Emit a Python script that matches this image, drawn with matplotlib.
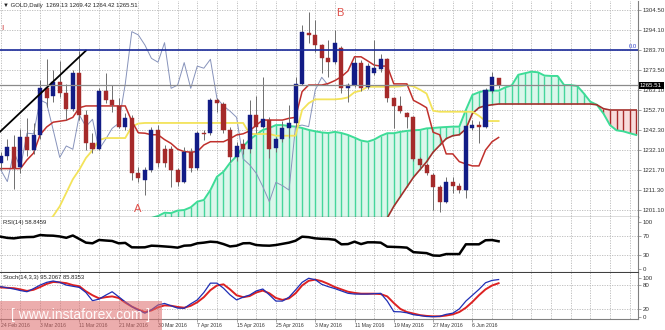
import numpy as np
import matplotlib
matplotlib.use("Agg")
import matplotlib.pyplot as plt
from matplotlib.patches import Rectangle

plt.rcParams['font.family'] = ['Liberation Sans', 'DejaVu Sans']

# daily candles, 24 Feb 2016 .. 10 Jun 2016
opens = [1225.6, 1229.0, 1233.5, 1223.2, 1238.7, 1232.1, 1239.9, 1264.0, 1260.0, 1267.4,
         1261.8, 1253.1, 1272.1, 1250.2, 1235.6, 1232.6, 1262.6, 1258.0, 1254.9, 1243.9,
         1248.5, 1220.4, 1216.6, 1221.8, 1242.5, 1232.5, 1232.5, 1221.8, 1215.8, 1231.3,
         1222.7, 1240.8, 1240.8, 1258.0, 1255.7, 1242.5, 1228.3, 1235.1, 1232.5, 1250.2,
         1244.2, 1247.6, 1233.0, 1237.6, 1243.3, 1245.9, 1266.2, 1292.5, 1291.6, 1286.4,
         1279.5, 1277.5, 1284.7, 1264.0, 1265.7, 1277.3, 1264.5, 1272.1, 1273.8, 1279.0,
         1258.8, 1254.9, 1251.1, 1249.0, 1227.3, 1224.4, 1219.2, 1213.2, 1205.4, 1215.4,
         1213.7, 1211.4, 1243.5, 1245.0, 1244.2, 1262.8, 1269.13]
highs = [1231.0, 1238.0, 1240.0, 1243.0, 1248.5, 1246.0, 1268.3, 1279.0, 1273.5, 1278.3,
         1266.0, 1273.5, 1283.3, 1252.8, 1240.7, 1264.0, 1271.8, 1265.7, 1258.8, 1251.0,
         1250.2, 1223.5, 1223.5, 1244.2, 1245.0, 1234.5, 1234.0, 1223.0, 1233.9, 1233.0,
         1242.0, 1242.5, 1259.0, 1259.0, 1257.0, 1244.0, 1236.0, 1238.0, 1258.0, 1260.0,
         1270.0, 1249.0, 1239.0, 1247.0, 1255.4, 1270.0, 1296.7, 1303.6, 1299.3, 1287.0,
         1289.0, 1294.0, 1286.0, 1266.5, 1280.0, 1278.5, 1277.0, 1289.0, 1281.5, 1279.8,
         1259.5, 1260.0, 1252.0, 1249.5, 1228.5, 1225.5, 1220.0, 1214.0, 1218.3, 1218.0,
         1215.0, 1245.0, 1247.5, 1247.3, 1264.0, 1272.6, 1269.42]
lows = [1222.0, 1227.0, 1212.0, 1220.0, 1229.0, 1230.0, 1238.0, 1254.5, 1257.0, 1259.5,
        1247.6, 1252.5, 1247.6, 1232.1, 1230.4, 1232.0, 1256.3, 1251.9, 1243.3, 1242.5,
        1216.6, 1215.8, 1208.9, 1221.0, 1223.5, 1223.5, 1213.0, 1213.5, 1215.0, 1220.5,
        1222.0, 1237.5, 1240.0, 1252.0, 1241.0, 1226.0, 1226.5, 1230.0, 1230.5, 1240.8,
        1243.5, 1227.8, 1231.0, 1236.5, 1238.2, 1244.2, 1265.5, 1287.3, 1283.0, 1271.8,
        1270.0, 1276.5, 1261.6, 1257.0, 1264.5, 1262.5, 1263.5, 1271.0, 1272.5, 1257.0,
        1243.5, 1251.0, 1243.5, 1226.5, 1223.0, 1219.0, 1201.1, 1200.2, 1204.5, 1209.7,
        1210.0, 1207.5, 1242.5, 1235.6, 1243.5, 1261.5, 1264.42]
closes = [1229.0, 1233.5, 1222.7, 1238.7, 1232.1, 1239.9, 1264.0, 1258.8, 1267.4, 1261.8,
          1253.1, 1272.1, 1250.2, 1235.6, 1232.6, 1262.6, 1258.0, 1255.4, 1244.0, 1248.5,
          1220.4, 1217.5, 1221.8, 1242.5, 1225.2, 1225.2, 1221.8, 1215.8, 1231.3, 1222.7,
          1240.8, 1240.5, 1258.0, 1256.3, 1242.5, 1228.3, 1234.2, 1232.5, 1250.2, 1244.2,
          1248.0, 1232.5, 1237.6, 1243.3, 1245.9, 1266.2, 1293.3, 1291.6, 1286.4, 1279.5,
          1277.5, 1287.6, 1264.0, 1265.7, 1277.3, 1264.0, 1275.5, 1274.4, 1279.0, 1258.8,
          1254.9, 1252.2, 1249.0, 1227.5, 1224.4, 1220.1, 1213.2, 1205.4, 1215.4, 1213.7,
          1211.4, 1244.4, 1245.0, 1244.2, 1263.1, 1269.7, 1265.51]

# ichimoku lines
tenkan = [1222.5, 1222.5, 1222.5, 1222.5, 1227.0, 1230.5, 1240.0, 1244.0, 1246.5, 1247.0,
          1247.5, 1249.0, 1254.0, 1254.9, 1254.9, 1254.9, 1254.9, 1254.9, 1254.9, 1254.9,
          1247.0, 1241.0, 1240.8, 1240.0, 1240.0, 1237.5, 1235.5, 1232.5, 1231.3, 1231.0,
          1231.3, 1234.7, 1236.4, 1236.4, 1236.4, 1238.0, 1239.9, 1240.5, 1242.0, 1245.0,
          1247.6, 1247.6, 1247.6, 1247.6, 1248.5, 1249.0, 1262.3, 1265.7, 1265.7, 1265.7,
          1266.5, 1268.0, 1270.0, 1273.0, 1280.3, 1280.3, 1278.2, 1276.0, 1275.5, 1275.5,
          1266.3, 1266.3, 1266.3, 1257.8, 1256.0, 1254.0, 1241.3, 1240.0, 1230.1, 1230.1,
          1226.1, 1224.9, 1223.9, 1223.9, 1232.1, 1236.4, 1238.6]
kijun = [1170.0, 1172.0, 1175.0, 1178.0, 1182.0, 1186.0, 1190.0, 1194.0, 1198.0, 1203.0,
         1210.0, 1217.0, 1222.0, 1228.0, 1232.0, 1237.3, 1238.3, 1238.3, 1238.3, 1238.3,
         1244.2, 1245.8, 1246.1, 1246.1, 1246.1, 1246.1, 1246.1, 1246.1, 1246.1, 1246.1,
         1246.1, 1246.1, 1246.1, 1246.1, 1246.1, 1246.1, 1246.1, 1246.1, 1240.4, 1240.4,
         1240.4, 1240.4, 1239.5, 1239.5, 1239.5, 1239.5, 1252.8, 1256.3, 1258.3, 1258.3,
         1258.3, 1258.3, 1258.6, 1259.3, 1262.0, 1262.8, 1264.8, 1264.8, 1264.8, 1264.8,
         1264.8, 1265.0, 1265.7, 1265.0, 1263.3, 1261.3, 1252.4, 1251.9, 1251.9, 1251.9,
         1251.9, 1251.9, 1251.9, 1249.8, 1247.1, 1247.1, 1247.1]
span_a = [1180.0, 1181.0, 1182.0, 1183.0, 1184.0, 1185.0, 1186.0, 1187.0, 1188.0, 1189.0,
          1189.0, 1190.0, 1190.0, 1191.0, 1191.0, 1192.0, 1192.0, 1193.0, 1193.0, 1194.0,
          1194.0, 1195.0, 1196.5, 1197.0, 1198.0, 1199.7, 1199.5, 1200.8, 1201.1, 1202.5,
          1205.4, 1206.3, 1211.4, 1218.3, 1220.9, 1225.5, 1229.0, 1234.0, 1237.5, 1240.0,
          1242.5, 1243.5, 1245.0, 1245.0, 1244.5, 1244.2, 1243.5, 1242.5, 1241.8, 1241.2,
          1240.9, 1241.5, 1240.9, 1239.9, 1238.5, 1237.0, 1236.4, 1237.5, 1239.4, 1240.8,
          1240.8, 1241.5, 1242.0, 1242.3, 1242.5, 1243.3, 1243.5, 1243.8, 1244.0, 1244.2,
          1244.2, 1252.8, 1260.6, 1262.0, 1262.8, 1262.8, 1262.8, 1264.5, 1265.5, 1271.0,
          1271.8, 1272.6, 1272.3, 1270.6, 1270.4, 1270.4, 1265.7, 1265.7, 1265.2, 1261.4,
          1257.1, 1255.5, 1251.0, 1245.0, 1242.3, 1241.8, 1240.8, 1239.9]
span_b = [1152.0, 1152.0, 1153.0, 1155.0, 1155.0, 1157.0, 1158.0, 1160.0, 1160.0, 1162.0,
          1162.0, 1164.0, 1165.0, 1165.0, 1167.0, 1168.0, 1170.0, 1170.0, 1171.0, 1172.0,
          1172.0, 1174.0, 1175.0, 1175.0, 1176.0, 1176.0, 1178.0, 1178.0, 1179.0, 1180.0,
          1180.0, 1181.0, 1182.0, 1182.0, 1183.0, 1183.0, 1184.0, 1184.0, 1185.0, 1185.0,
          1186.0, 1186.0, 1187.0, 1187.0, 1188.0, 1188.0, 1189.0, 1189.0, 1190.0, 1190.0,
          1191.0, 1191.0, 1192.0, 1192.0, 1193.0, 1193.0, 1194.0, 1195.0, 1196.0, 1197.0,
          1203.0, 1208.0, 1213.0, 1218.0, 1222.0, 1226.0, 1231.0, 1234.5, 1238.0, 1239.5,
          1240.0, 1243.0, 1251.0, 1254.0, 1255.0, 1255.5, 1255.9, 1255.9, 1255.9, 1255.9,
          1255.9, 1255.9, 1255.9, 1255.9, 1255.9, 1255.9, 1255.9, 1255.9, 1255.9, 1255.9,
          1255.9, 1255.5, 1253.5, 1252.8, 1252.8, 1252.8, 1252.8, 1252.8]

rsi = [68.5, 66.0, 65.0, 67.0, 67.7, 68.0, 72.0, 71.0, 70.6, 69.0,
       66.2, 71.0, 63.6, 56.0, 54.6, 61.6, 60.5, 59.5, 54.6, 55.5,
       46.2, 46.0, 46.2, 49.6, 49.0, 48.0, 47.0, 45.5, 49.6, 50.3,
       54.6, 56.0, 58.0, 57.0, 53.0, 48.0, 49.6, 54.6, 55.0, 51.0,
       50.0, 49.6, 51.0, 53.5, 56.0, 60.0, 68.5, 67.5, 65.0, 64.0,
       63.6, 62.0, 52.5, 53.0, 58.0, 53.0, 56.7, 56.7, 56.0, 47.5,
       47.0, 46.5, 45.5, 36.0, 35.0, 34.0, 29.0, 28.5, 32.0, 32.0,
       32.0, 52.5, 52.5, 52.5, 61.0, 61.5, 58.8459]
stoch_k = [77, 74, 71, 67, 64, 72, 81, 88, 91.5, 88,
           81, 78, 75, 62, 41, 45, 55, 64, 51, 38,
           26, 17, 9, 18, 30, 34, 28, 22, 21.5, 33,
           43, 62, 86, 86, 73, 56, 43, 50, 55.6, 66,
           71, 56, 40, 40, 50, 68.5, 88, 98.5, 95, 83,
           77, 72, 66, 60, 58, 58, 58, 59, 60, 40,
           13, 12.5, 10, 5, 3, 0.5, 0, 1, 6, 9,
           20, 40, 55, 70, 87, 93, 95.2067]
stoch_d = [75, 74, 73, 70, 66, 69, 76, 84, 89, 88,
           86, 81, 78, 65, 55, 47, 50, 52, 48, 36,
           26, 18, 12, 16, 24, 29, 28, 25, 23, 28,
           37, 50, 68, 80, 83, 70, 55, 50, 53, 62,
           67, 60, 48, 43, 47, 60, 80, 92, 95, 91,
           84, 76, 70, 64, 61, 59, 59, 59, 58, 52,
           35, 20, 12, 8, 4, 2, 1, 1, 3, 6,
           12, 23, 38, 55, 70, 80, 85.8353]

price_ticks = [1304.50, 1294.10, 1283.70, 1273.50, 1263.10, 1252.70,
               1242.30, 1232.10, 1221.70, 1211.30, 1201.10]
date_bars = [0, 6, 12, 18, 24, 30, 36, 42, 48, 54, 60, 66, 72]
date_labels = ["24 Feb 2016", "3 Mar 2016", "11 Mar 2016", "21 Mar 2016", "30 Mar 2016",
               "7 Apr 2016", "15 Apr 2016", "25 Apr 2016", "3 May 2016", "11 May 2016",
               "19 May 2016", "27 May 2016", "6 Jun 2016"]
level_blue = 1283.70
last_price = 1265.51
trend_x = [-0.1, 13.0]
trend_y = [1241.6, 1283.5]

BULL = "#121c86"
BEAR = "#a52a2a"
GRID = "#b8b8b8"

W, H = 665.0, 330.0
fig = plt.figure(figsize=(6.65, 3.30), dpi=100, facecolor="white")


def px_axes(top, bottom, right=638):
    return fig.add_axes([0, 1 - bottom / H, right / W, (bottom - top) / H])


def ftext(xp, yp, s, **kw):
    return fig.text(xp / W, 1 - yp / H, s, **kw)


ax = px_axes(1, 217)
ax_rsi = px_axes(217, 273)
ax_st = px_axes(273, 319)

grid_bars = np.arange(0, 98, 3)
for a in (ax, ax_rsi, ax_st):
    a.set_xlim(-0.12, 97.28)
    a.vlines(grid_bars, -1e4, 1e4, colors=GRID, lw=0.6, linestyles=(0, (1.5, 1.5)), zorder=0)
    a.spines['left'].set_visible(False)
    a.spines['top'].set_visible(False)
    a.spines['right'].set_color('#808080')
    a.spines['right'].set_linewidth(0.8)
    a.yaxis.tick_right()
    a.tick_params(axis='y', length=2, width=0.5, colors='#808080',
                  labelcolor='#333333', labelsize=4.4, pad=1.5)
    a.set_xticks([])

# ---- main price panel
ax.set_ylim(1197.48, 1309.15)
ax.set_yticks(price_ticks)
ax.set_yticklabels(["%.2f" % p for p in price_ticks])
ax.hlines(price_ticks, -1, 100, colors=GRID, lw=0.6, linestyles=(0, (1.5, 1.5)), zorder=0)
ax.spines['bottom'].set_color('#505050')
ax.spines['bottom'].set_linewidth(1.0)

xc = np.arange(len(span_a))
sa = np.array(span_a)
sb = np.array(span_b)
green = sa >= sb
ax.fill_between(xc, sa, sb, where=green, interpolate=True, color='#dbf6eb', lw=0, zorder=1)
ax.fill_between(xc, sa, sb, where=~green, interpolate=True, color='#f8dcdc', lw=0, zorder=1)
ax.vlines(xc[green], sb[green], sa[green], colors='#45d69c', lw=1.0, zorder=1.5)
ax.vlines(xc[~green], sa[~green], sb[~green], colors='#a82a2a', lw=1.0, zorder=1.5)
ax.plot(xc, sa, color='#3ddc97', lw=1.4, zorder=2)
ax.plot(xc, sb, color='#a3302c', lw=1.2, zorder=2)

x = np.arange(len(opens))
o = np.array(opens)
c = np.array(closes)
h = np.array(highs)
l = np.array(lows)

# chikou = closes shifted back 26 bars
ax.plot(x[:-26], c[26:], color='#8793bb', lw=0.7, zorder=2.5)
ax.plot(x, kijun, color='#f3e35a', lw=1.3, zorder=3)
ax.plot(x, tenkan, color='#c0302c', lw=1.1, zorder=3)

col = np.where(c >= o, BULL, BEAR)
ax.vlines(x, l, h, colors='#6e6e6e', lw=0.7, zorder=4)
ax.bar(x, np.maximum(np.abs(c - o), 0.4), bottom=np.minimum(o, c), width=0.62,
       color=col, edgecolor=col, lw=0.3, zorder=5)

ax.plot(trend_x, trend_y, color='black', lw=1.3, zorder=6)
ax.axhline(level_blue, color='#1a2a9a', lw=1.2, zorder=6)
ax.axhline(last_price, color='#8a8a8a', lw=0.9, zorder=6)

# ---- RSI panel
ax_rsi.set_ylim(-7.8, 109.9)
ax_rsi.set_yticks([100, 70, 30, 0])
ax_rsi.hlines([70, 30], -1, 100, colors=GRID, lw=0.6, linestyles=(0, (1.5, 1.5)), zorder=0)
ax_rsi.plot(x, rsi, color='black', lw=1.8, zorder=3)
ax_rsi.spines['bottom'].set_color('#404040')
ax_rsi.spines['bottom'].set_linewidth(1.5)

# ---- Stochastic panel
ax_st.set_ylim(-5.9, 112)
ax_st.set_yticks([100, 80, 20, 0])
ax_st.hlines([80, 20], -1, 100, colors=GRID, lw=0.6, linestyles=(0, (1.5, 1.5)), zorder=0)
ax_st.plot(x, stoch_d, color='#dd2222', lw=1.4, zorder=3)
ax_st.plot(x, stoch_k, color='#1f2fb5', lw=0.9, zorder=4)
ax_st.spines['bottom'].set_color('#808080')
ax_st.spines['bottom'].set_linewidth(0.8)
ax_st.set_xticks(date_bars)
ax_st.set_xticklabels(date_labels, ha='left')
ax_st.tick_params(axis='x', length=2, width=0.5, colors='#808080',
                  labelcolor='#333333', labelsize=3.7, pad=1)

# ---- texts
ftext(3, 6, "\u25bc GOLD,Daily  1269.13 1269.42 1264.42 1265.51",
      size=4.3, va='center', color='#222222')
ftext(1, 28, "I", size=6, color='#d03a3a', va='center')
ftext(138, 209, "A", size=8, color='#e0504a', ha='center', va='center')
ftext(340, 13.5, "B", size=8, color='#e0504a', ha='center', va='center')
ftext(637, 46.5, "0.0", size=4.2, color='#2a3cc8', ha='right', va='center')
ftext(3, 222.5, "RSI(14) 58.8459", size=4.2, va='center', color='#222222')
ftext(3, 278, "Stoch(14,3,3) 95.2067 85.8353", size=4.2, va='center', color='#222222')

fig.patches.append(Rectangle((638.5 / W, 1 - 89 / H), 25.5 / W, 6.8 / H,
                             transform=fig.transFigure, facecolor='black',
                             edgecolor='none', zorder=10))
ftext(651, 85.6, "1265.51", size=4.4, color='white', ha='center', va='center', zorder=11)

# watermark
fig.patches.append(Rectangle((0, 0), 162 / W, 29 / H, transform=fig.transFigure,
                             facecolor='#dd6b6b', alpha=0.55, edgecolor='none', zorder=10))
ftext(81, 315, "[ www.instaforex.com ]", size=10, color='white', alpha=0.92,
      ha='center', va='center', zorder=11)

fig.savefig("out.png", dpi=100, facecolor="white")
